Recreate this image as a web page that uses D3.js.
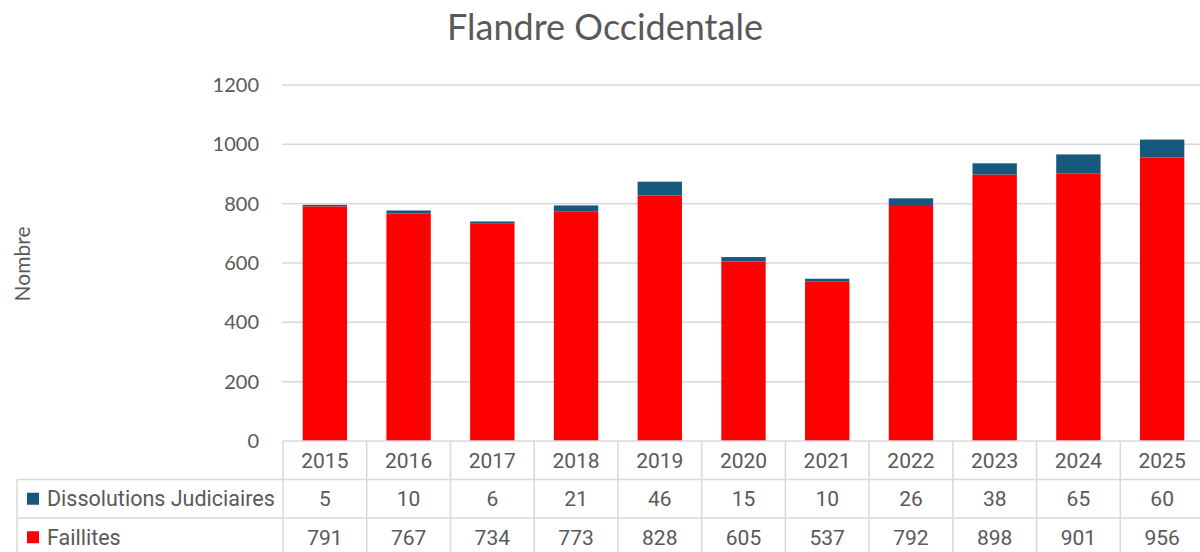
<!DOCTYPE html>
<meta charset="utf-8">
<script src="https://d3js.org/d3.v7.min.js"></script>
<style>
body { margin: 0; background: #fff; }
.tick text { fill: #595959; }
</style>
<div id="my_dataviz"></div>
<script>

// data
var years = ["2015", "2016", "2017", "2018", "2019", "2020", "2021", "2022", "2023", "2024", "2025"];
var faillites = [791, 767, 734, 773, 828, 605, 537, 792, 898, 901, 956];
var dissolutions = [5, 10, 6, 21, 46, 15, 10, 26, 38, 65, 60];
var yTicks = [0, 200, 400, 600, 800, 1000, 1200];
var seriesNames = ["Dissolutions Judiciaires", "Faillites"];
var seriesColors = ["#17587d", "#ff0000"];

var W = 1200, H = 552;
var plotLeft = 283, plotRight = 1204, plotTop = 85, plotBottom = 441;
var rowH = 38.5, legendLeft = 17;
var grey = "#595959", lineCol = "#d9d9d9";

var svg = d3.select("#my_dataviz")
  .append("svg")
    .attr("width", W)
    .attr("height", H);

var x = d3.scaleBand()
  .domain(years)
  .range([plotLeft, plotRight])
  .padding(0);

var y = d3.scaleLinear()
  .domain([0, 1200])
  .range([plotBottom, plotTop]);

// title
svg.append("text")
  .attr("x", 605)
  .attr("y", 40)
  .attr("text-anchor", "middle")
  .style("font-family", "Lato, sans-serif")
  .style("font-size", "36px")
  .style("fill", grey)
  .text("Flandre Occidentale");

// gridlines
svg.append("g")
  .selectAll("line")
  .data(yTicks.filter(function(d) { return d > 0; }))
  .enter()
  .append("line")
    .attr("x1", plotLeft - 1)
    .attr("x2", W)
    .attr("y1", function(d) { return y(d); })
    .attr("y2", function(d) { return y(d); })
    .style("stroke", lineCol)
    .style("stroke-width", 1.5);

// y axis labels
var yAxis = svg.append("g")
  .attr("transform", "translate(" + (plotLeft - 24) + ",0)")
  .call(d3.axisLeft(y).tickValues(yTicks).tickSize(0).tickPadding(0).tickFormat(d3.format("d")));
yAxis.select(".domain").remove();
yAxis.selectAll("text")
  .style("font-family", "Lato, sans-serif")
  .style("font-size", "20px");

svg.append("text")
  .attr("transform", "translate(30,264) rotate(-90)")
  .attr("text-anchor", "middle")
  .style("font-family", "Lato, sans-serif")
  .style("font-size", "21px")
  .style("fill", grey)
  .text("Nombre");

// stacked bars
var rows = years.map(function(yr, i) {
  return { year: yr, Faillites: faillites[i], Dissolutions: dissolutions[i] };
});
var stacked = d3.stack().keys(["Faillites", "Dissolutions"])(rows);
var color = d3.scaleOrdinal().domain(["Dissolutions", "Faillites"]).range(seriesColors);
var barW = x.bandwidth() * 0.53;

svg.append("g")
  .selectAll("g")
  .data(stacked)
  .enter()
  .append("g")
    .style("fill", function(d) { return color(d.key); })
  .selectAll("rect")
  .data(function(d) { return d; })
  .enter()
  .append("rect")
    .attr("x", function(d) { return x(d.data.year) + (x.bandwidth() - barW) / 2; })
    .attr("width", barW)
    .attr("y", function(d) { return y(d[1]); })
    .attr("height", function(d) { return y(d[0]) - y(d[1]); });

// data table below the chart
var table = svg.append("g");
var tableFont = "Roboto, sans-serif";

// horizontal lines
[plotBottom, plotBottom + rowH, plotBottom + 2 * rowH].forEach(function(yy, i) {
  table.append("line")
    .attr("x1", i === 0 ? plotLeft : legendLeft)
    .attr("x2", W)
    .attr("y1", yy).attr("y2", yy)
    .style("stroke", lineCol)
    .style("stroke-width", 1.5);
});

// vertical lines
table.selectAll(".vline")
  .data(years)
  .enter()
  .append("line")
    .attr("class", "vline")
    .attr("x1", function(d) { return x(d); })
    .attr("x2", function(d) { return x(d); })
    .attr("y1", plotBottom)
    .attr("y2", H)
    .style("stroke", lineCol)
    .style("stroke-width", 1.5);
table.append("line")
  .attr("x1", legendLeft).attr("x2", legendLeft)
  .attr("y1", plotBottom + rowH).attr("y2", H)
  .style("stroke", lineCol)
  .style("stroke-width", 1.5);

// header years
table.selectAll(".yr")
  .data(years)
  .enter()
  .append("text")
    .attr("x", function(d) { return x(d) + x.bandwidth() / 2; })
    .attr("y", plotBottom + rowH / 2)
    .attr("dy", "0.36em")
    .attr("text-anchor", "middle")
    .style("font-family", tableFont)
    .style("font-size", "21px")
    .style("fill", grey)
    .text(function(d) { return d; });

// value rows
var tableRows = [dissolutions, faillites];
tableRows.forEach(function(vals, r) {
  var cy = plotBottom + rowH * (r + 1) + rowH / 2;
  table.append("rect")
    .attr("x", 27)
    .attr("y", cy - 6)
    .attr("width", 12)
    .attr("height", 12)
    .style("fill", seriesColors[r]);
  table.append("text")
    .attr("x", 47)
    .attr("y", cy)
    .attr("dy", "0.36em")
    .style("font-family", tableFont)
    .style("font-size", "21.5px")
    .style("fill", grey)
    .text(seriesNames[r]);
  table.selectAll(".v" + r)
    .data(vals)
    .enter()
    .append("text")
      .attr("x", function(d, i) { return x(years[i]) + x.bandwidth() / 2; })
      .attr("y", cy)
      .attr("dy", "0.36em")
      .attr("text-anchor", "middle")
      .style("font-family", tableFont)
      .style("font-size", "21px")
      .style("fill", grey)
      .text(function(d) { return d; });
});

</script>
